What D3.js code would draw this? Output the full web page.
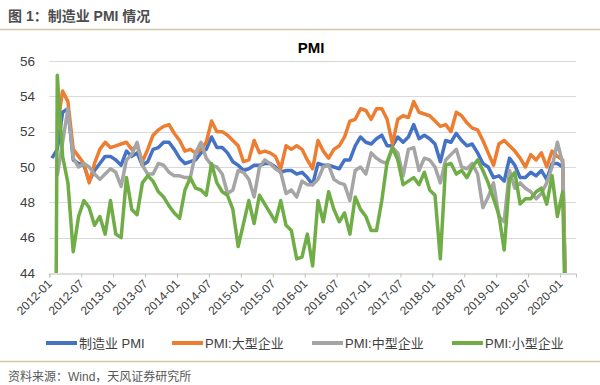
<!DOCTYPE html>
<html>
<head>
<meta charset="utf-8">
<script src="https://cdn.jsdelivr.net/npm/d3@7"></script>
<style>
body { margin: 0; background: #fff; }
svg text { font-family: "Liberation Sans", Arial, "Noto Sans CJK SC", sans-serif; }
</style>
</head>
<body>
<svg id="graph"></svg>
<script>
// x axis tick labels, one every 6 months
var tickLabels = ["2012-01","2012-07","2013-01","2013-07","2014-01","2014-07","2015-01","2015-07",
                  "2016-01","2016-07","2017-01","2017-07","2018-01","2018-07","2019-01","2019-07","2020-01"];

// monthly values, 2012-01 .. 2020-02
var mfgPMI = [
  50.5, 51.0, 53.1, 53.3, 50.4, 50.2, 50.1, 49.2, 49.8, 50.2, 50.6, 50.6,
  50.4, 50.1, 50.9, 50.6, 50.8, 50.1, 50.3, 51.0, 51.1, 51.4, 51.4, 51.0,
  50.5, 50.2, 50.3, 50.4, 50.8, 51.0, 51.7, 51.1, 51.1, 50.8, 50.3, 50.1,
  49.8, 49.9, 50.1, 50.1, 50.2, 50.2, 50.0, 49.7, 49.8, 49.8, 49.6, 49.7,
  49.4, 49.0, 50.2, 50.1, 50.1, 50.0, 49.9, 50.4, 50.4, 51.2, 51.7, 51.4,
  51.3, 51.6, 51.8, 51.2, 51.2, 51.7, 51.4, 51.7, 52.4, 51.6, 51.8, 51.6,
  51.3, 50.3, 51.5, 51.4, 51.9, 51.5, 51.2, 51.3, 50.8, 50.2, 50.0, 49.4,
  49.5, 49.2, 50.5, 50.1, 49.4, 49.4, 49.7, 49.5, 49.8, 49.3, 50.2, 50.2,
  50.0, 35.7];

var largePMI = [
  null, 52.3, 54.3, 53.7, 51.0, 50.6, 50.2, 49.1, 50.2, 51.0, 51.4, 51.1,
  51.2, 51.3, 51.4, 51.0, 51.2, 50.3, 51.0, 51.8, 52.1, 52.3, 52.4, 51.9,
  51.5, 50.9, 51.0, 50.8, 51.0, 51.4, 52.6, 52.0, 52.0, 51.8, 51.5, 51.2,
  50.3, 50.4, 51.5, 50.8, 50.9, 50.8, 50.6, 49.9, 51.2, 51.0, 51.2, 51.0,
  50.4, 49.9, 51.5, 50.9, 50.5, 51.0, 51.2, 51.7, 52.6, 52.7, 53.3, 53.2,
  52.7, 53.3, 53.3, 52.7, 51.3, 52.7, 52.9, 52.8, 53.7, 53.1, 53.0, 52.9,
  52.6, 52.3, 52.4, 52.0, 53.1, 52.9, 52.5, 52.2, 52.1, 51.5, 50.8, 50.1,
  51.3, 51.5, 51.2, 50.9, 50.5, 50.0, 50.7, 50.4, 50.8, 50.0, 50.9, 50.6,
  50.4, 36.6];

var mediumPMI = [
  null, 49.5, 51.4, 53.3, 50.5, 50.0, 50.2, 50.0, 49.6, 49.3, 49.6, 49.9,
  49.7, 48.9, 50.4, 50.7, 51.4, 50.1, 49.6, 49.6, 50.2, 50.1, 49.7, 49.5,
  49.5, 49.4, 49.4, 50.8, 51.4, 50.5, 50.1, 50.0, 49.6, 48.5, 48.7, 49.8,
  49.7, 49.3, 48.3, 50.0, 50.4, 50.2, 49.9, 49.7, 48.5, 48.7, 48.3, 49.2,
  49.0, 49.0, 49.3, 50.0, 50.1, 49.3, 49.1, 49.0, 48.1, 49.8, 50.0, 49.6,
  50.8, 50.5, 50.3, 50.2, 51.1, 50.8, 49.5, 51.0, 51.1, 49.8, 50.5, 50.4,
  50.0, 49.1, 50.4, 50.7, 51.0, 50.0, 49.9, 50.2, 49.6, 47.7, 48.3, 49.1,
  47.2, 46.9, 49.8, 48.8, 49.1, 48.8, 48.6, 48.2, 48.5, 49.1, 50.0, 51.4,
  50.2, 35.5];

var smallPMI = [
  0, 55.2, 50.6, 49.1, 45.2, 47.2, 48.1, 47.7, 46.7, 47.2, 46.2, 48.1,
  46.2, 46.0, 49.4, 47.6, 47.3, 49.1, 49.5, 49.2, 48.6, 48.3, 47.8, 47.4,
  47.1, 48.7, 49.4, 48.8, 48.7, 48.4, 50.2, 49.1, 48.6, 48.4, 47.6, 45.5,
  46.8, 48.1, 46.8, 48.4, 47.9, 47.4, 46.9, 48.1, 46.7, 46.4, 44.8, 44.9,
  46.2, 44.4, 48.1, 46.9, 48.6, 47.6, 46.9, 47.4, 46.2, 48.3, 47.6, 47.2,
  46.4, 46.4, 48.1, 50.3, 51.1, 50.4, 49.0, 49.2, 49.4, 49.0, 49.7, 48.7,
  48.4, 44.8, 50.1, 50.2, 49.6, 49.8, 49.4, 50.0, 50.4, 49.8, 49.1, 48.2,
  47.3, 45.3, 49.3, 49.7, 47.9, 48.2, 48.2, 48.6, 48.8, 47.9, 49.5, 47.2,
  48.6, 34.1];

var seriesNames = ["制造业 PMI", "PMI:大型企业", "PMI:中型企业", "PMI:小型企业"];
var seriesColors = ["#4472C4", "#ED7D31", "#A5A5A5", "#70AD47"];
var yTicks = [44, 46, 48, 50, 52, 54, 56];

var initGraph = function()
{
    var screen = {width: 600, height: 385}
    var plot = {left: 49.3, right: 576, top: 61, bottom: 273}

    var svg = d3.select("#graph")
        .attr("width", screen.width)
        .attr("height", screen.height)

    var nMonths = mfgPMI.length + 1

    var xScale = d3.scaleLinear()
        .domain([0, nMonths])
        .range([plot.left, plot.right])

    var yScale = d3.scaleLinear()
        .domain([44, 56])
        .range([plot.bottom, plot.top])

    drawFrame(svg, screen)
    drawAxes(svg, plot, xScale, yScale)
    drawLines(svg, plot, xScale, yScale)
    drawLegend(svg)
}

var drawFrame = function(svg, screen)
{
    svg.append("text")
        .attr("x", 8)
        .attr("y", 21)
        .attr("font-size", "14px")
        .attr("font-weight", "bold")
        .attr("fill", "#4d4d4d")
        .text("图 1：制造业 PMI 情况")

    svg.append("line")
        .attr("x1", 0).attr("x2", screen.width)
        .attr("y1", 29.5).attr("y2", 29.5)
        .attr("stroke", "#d6c6a4")
        .attr("stroke-width", 1.5)

    svg.append("text")
        .attr("x", 311)
        .attr("y", 53)
        .attr("text-anchor", "middle")
        .attr("font-size", "15px")
        .attr("font-weight", "bold")
        .attr("fill", "#000")
        .text("PMI")

    svg.append("line")
        .attr("x1", 0).attr("x2", screen.width)
        .attr("y1", 361.5).attr("y2", 361.5)
        .attr("stroke", "#d6c6a4")
        .attr("stroke-width", 1.5)

    svg.append("text")
        .attr("x", 8)
        .attr("y", 381)
        .attr("font-size", "12px")
        .attr("fill", "#595959")
        .text("资料来源：Wind，天风证券研究所")
}

var drawAxes = function(svg, plot, xScale, yScale)
{
    // horizontal gridlines
    svg.append("g")
        .selectAll("line")
        .data(yTicks.slice(1))
        .enter()
        .append("line")
        .attr("x1", plot.left)
        .attr("x2", plot.right)
        .attr("y1", function(d) { return Math.round(yScale(d)) + 0.5 })
        .attr("y2", function(d) { return Math.round(yScale(d)) + 0.5 })
        .attr("stroke", "#d9d9d9")
        .attr("stroke-width", 1)

    // y labels
    svg.append("g")
        .selectAll("text")
        .data(yTicks)
        .enter()
        .append("text")
        .attr("x", 35)
        .attr("y", function(d) { return yScale(d) })
        .attr("dy", "0.35em")
        .attr("text-anchor", "end")
        .attr("font-size", "13.5px")
        .attr("fill", "#404040")
        .text(function(d) { return d })

    // x axis with a tick every 6 months
    var xAxis = d3.axisBottom(xScale)
        .tickValues(tickLabels.map(function(t, i) { return i * 6 }))
        .tickSize(4)
        .tickFormat(function(d) { return tickLabels[d / 6] })

    var gx = svg.append("g")
        .attr("transform", "translate(0," + (plot.bottom + 0.5) + ")")
        .call(xAxis)

    gx.select(".domain").attr("stroke", "#bfbfbf")
    gx.selectAll(".tick line").attr("stroke", "#bfbfbf")
    gx.selectAll(".tick text")
        .attr("y", 0)
        .attr("dy", 0)
        .attr("text-anchor", "end")
        .attr("transform", "translate(3,11) rotate(-45)")
        .attr("font-size", "12px")
        .attr("font-family", null)
        .attr("fill", "#404040")
}

var drawLines = function(svg, plot, xScale, yScale)
{
    svg.append("clipPath")
        .attr("id", "plotClip")
        .append("rect")
        .attr("x", plot.left)
        .attr("y", plot.top - 20)
        .attr("width", plot.right - plot.left)
        .attr("height", plot.bottom - plot.top + 20)

    var allSeries = [mfgPMI, largePMI, mediumPMI, smallPMI]

    var line = d3.line()
        .defined(function(d) { return d != null })
        .x(function(d, i) { return xScale(i + 0.5) })
        .y(function(d) { return yScale(d) })

    svg.append("g")
        .attr("clip-path", "url(#plotClip)")
        .selectAll("path")
        .data(allSeries)
        .enter()
        .append("path")
        .attr("d", function(s) { return line(s) })
        .attr("fill", "none")
        .attr("stroke", function(s, i) { return seriesColors[i] })
        .attr("stroke-width", 3.5)
        .attr("stroke-linejoin", "round")
}

var drawLegend = function(svg)
{
    var legendX = [46, 172, 312, 452]
    var legendY = 343

    var items = svg.append("g")
        .selectAll("g")
        .data(seriesNames)
        .enter()
        .append("g")
        .attr("transform", function(d, i) { return "translate(" + legendX[i] + "," + legendY + ")" })

    items.append("line")
        .attr("x1", 0).attr("x2", 31)
        .attr("y1", 0).attr("y2", 0)
        .attr("stroke", function(d, i) { return seriesColors[i] })
        .attr("stroke-width", 4)

    items.append("text")
        .attr("x", 33)
        .attr("y", 0)
        .attr("dy", "0.36em")
        .attr("font-size", "13px")
        .attr("fill", "#404040")
        .text(function(d) { return d })
}

initGraph()
</script>
</body>
</html>
